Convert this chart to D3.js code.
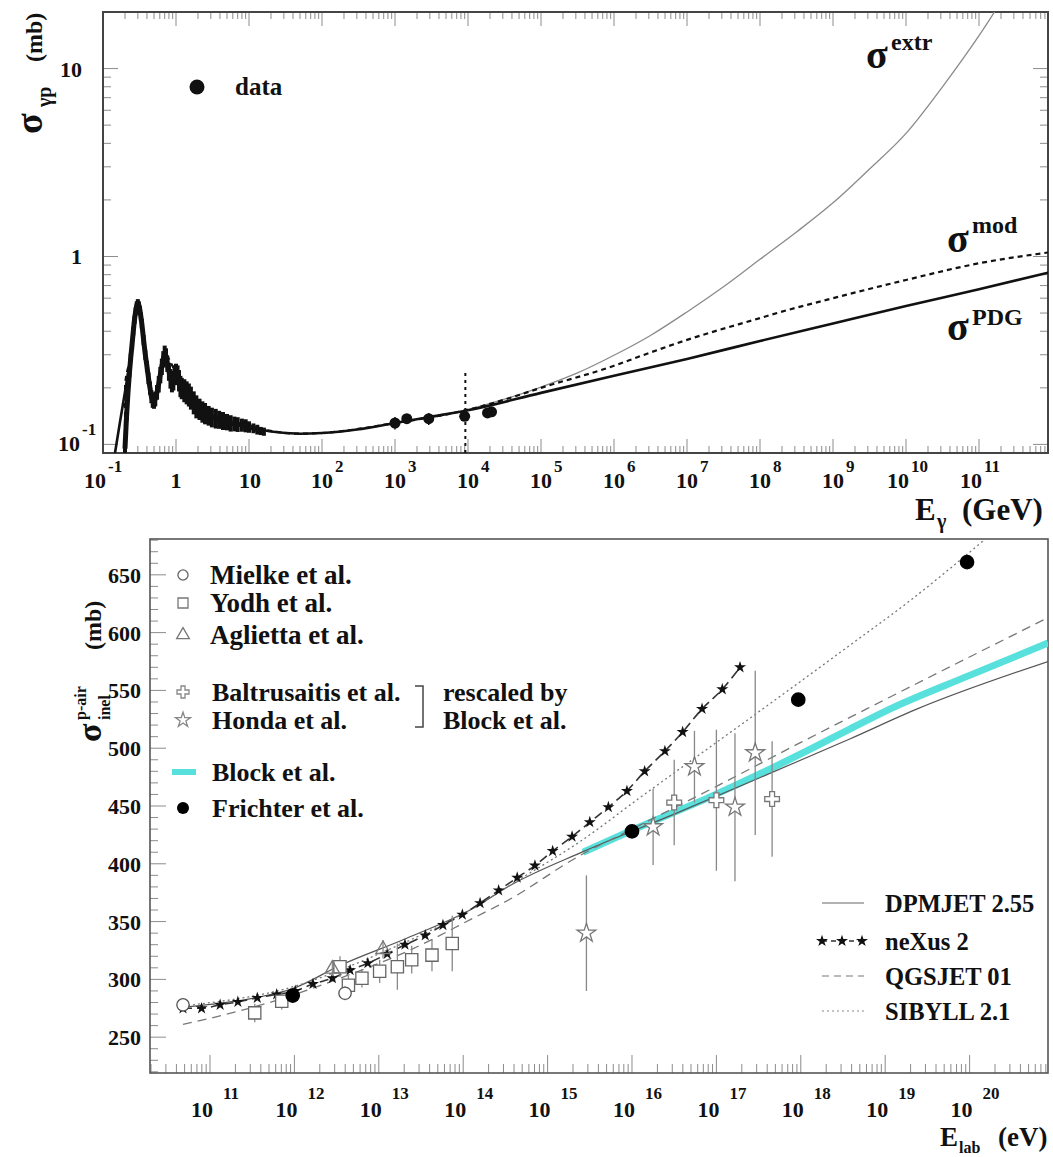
<!DOCTYPE html>
<html><head><meta charset="utf-8">
<script src="https://cdn.jsdelivr.net/npm/d3@7/dist/d3.min.js"></script>
<style>
html,body{margin:0;padding:0;background:#fff;}
text{font-family:'Liberation Serif','Times New Roman',serif;font-weight:bold;fill:#111;}
</style></head><body>
<svg id="chart" width="1053" height="1157" xmlns="http://www.w3.org/2000/svg"></svg>
<script>
// ================= TOP PANEL DATA (E in GeV, sigma in mb) =================
const topXTickExps = [-1,0,1,2,3,4,5,6,7,8,9,10,11];
const topYTickVals = [0.1, 1, 10];
const topYTickBase = ["10", "1", "10"];
const topYTickSup  = ["-1", "", ""];

const resE = [0.20,0.21,0.22,0.23,0.24,0.25,0.26,0.27,0.28,0.29,0.30,0.31,0.32,0.33,0.34,0.36,0.38,0.40,0.42,0.44,0.46,0.48,0.50,0.52,0.55,0.58,0.61,0.64,0.67,0.70,0.73,0.76,0.80,0.84,0.88,0.92,0.96,1.00,1.05,1.10,1.15,1.20,1.30,1.40,1.50,1.60,1.75,1.90,2.10,2.30,2.50,2.80,3.10,3.50,3.90,4.40,5.00,5.60,6.30,7.00,8.00,9.00,10.0,11.5,13.0,14.5,16.0];
const resSigma = [0.095,0.14,0.19,0.24,0.29,0.34,0.40,0.46,0.51,0.55,0.565,0.55,0.52,0.48,0.44,0.36,0.30,0.26,0.225,0.20,0.18,0.172,0.17,0.175,0.19,0.21,0.235,0.26,0.285,0.305,0.295,0.27,0.245,0.225,0.215,0.22,0.235,0.24,0.235,0.22,0.205,0.20,0.195,0.19,0.185,0.178,0.168,0.16,0.155,0.15,0.147,0.143,0.14,0.138,0.136,0.134,0.132,0.13,0.129,0.128,0.127,0.126,0.124,0.122,0.12,0.118,0.117];
const resRelErr = [0.05,0.05,0.05,0.05,0.05,0.05,0.05,0.05,0.05,0.05,0.05,0.05,0.05,0.05,0.06,0.06,0.06,0.07,0.07,0.08,0.08,0.09,0.09,0.09,0.09,0.1,0.1,0.1,0.1,0.1,0.1,0.1,0.11,0.12,0.12,0.12,0.12,0.12,0.12,0.13,0.13,0.13,0.14,0.14,0.14,0.14,0.14,0.14,0.13,0.13,0.13,0.12,0.12,0.12,0.11,0.11,0.1,0.1,0.09,0.09,0.08,0.08,0.07,0.06,0.06,0.05,0.05];

const hiE = [1.0e3, 1.45e3, 2.9e3, 9.0e3, 1.85e4, 2.1e4];
const hiSigma = [0.130, 0.137, 0.137, 0.141, 0.147, 0.149];
const hiErr = [0.010, 0.006, 0.010, 0.004, 0.005, 0.005];

const cutE = [9.2e3, 9.2e3];
const cutSigma = [0.09, 0.24];

const pdgE = [0.146,0.17,0.2,0.234,0.27,0.3,0.34,0.4,0.5,0.7,0.85,1.0,1.3,2,3,5,10,20,50,100,300,1e3,3e3,1e4,1e5,1e6,1e7,1e8,1e9,1e10,1e11,8.8e11];
const pdgSigma = [0.09,0.13,0.19,0.28,0.43,0.55,0.44,0.26,0.17,0.30,0.22,0.24,0.195,0.155,0.14,0.132,0.124,0.117,0.114,0.115,0.12,0.13,0.14,0.152,0.188,0.232,0.285,0.355,0.44,0.545,0.67,0.82];

const modE = [0.2,0.201,0.24,0.3,0.4,0.5,0.7,1.0,2,5,10,50,100,1e3,1e4,3e4,1e5,1e6,2.3e6,1e7,1e8,1.9e8,1e9,1e10,1e11,8.8e11];
const modSigma = [0.09,0.21,0.29,0.55,0.26,0.17,0.30,0.24,0.155,0.132,0.124,0.114,0.115,0.13,0.153,0.172,0.2,0.262,0.295,0.36,0.47,0.506,0.6,0.75,0.92,1.05];

const extrE = [1e4,3.16e4,1e5,3.16e5,1e6,3.16e6,1e7,3.16e7,1e8,3.16e8,1e9,3.16e9,1e10,3.16e10,1e11,2.5e11];
const extrSigma = [0.153,0.174,0.202,0.24,0.298,0.38,0.507,0.69,0.966,1.35,1.93,2.92,4.52,8.0,14.96,26.0];

// ================= BOTTOM PANEL DATA (log10 E_lab/eV, sigma in mb) =================
const botXTickExps = [11,12,13,14,15,16,17,18,19,20];
const botYTickVals = [250,300,350,400,450,500,550,600,650];

const mielkeLogE = [10.68, 12.60];
const mielkeSigma = [278, 288];
const mielkeErr = [4, 6];

const yodhLogE = [11.53, 11.85, 12.54, 12.64, 12.80, 13.01, 13.22, 13.39, 13.63, 13.87];
const yodhSigma = [271, 281, 311, 295, 301, 307, 311, 317, 321, 331];
const yodhErr = [8, 7, 9, 8, 8, 10, 20, 12, 14, 24];

const agliettaLogE = [12.45, 13.05];
const agliettaSigma = [309, 326];
const agliettaErr = [6, 8];

const baltLogE = [16.50, 17.00, 17.66];
const baltSigma = [453, 455, 456];
const baltErr = [37, 61, 50];

const hondaLogE = [15.46, 16.25, 16.74, 17.22, 17.46];
const hondaSigma = [340, 432, 484, 449, 496];
const hondaErr = [50, 33, 31, 64, 71];

const frichterLogE = [11.98, 16.0, 17.97, 19.97];
const frichterSigma = [286, 428, 542, 661];

const dpmLogE = [10.68, 11.53, 11.98, 12.54, 13.33, 14.12, 14.55, 15.42, 16.5, 17.5, 18.58, 19.38, 20.93];
const dpmSigma = [276, 284, 292, 312, 335.6, 361.5, 381, 410.5, 443, 474, 508, 534, 575];

const nexLogE = [10.68,10.90,11.12,11.33,11.56,11.79,12.01,12.22,12.45,12.66,12.87,13.10,13.31,13.55,13.76,13.99,14.20,14.42,14.64,14.85,15.06,15.29,15.50,15.72,15.94,16.15,16.39,16.60,16.83,17.07,17.28];
const nexSigma = [275,275,278,280.5,284,287,290,296,301,308,314,322,330,338,347,356,366,377,388,398.5,411,423.5,436,449,463,480,497.5,514,534,551,570];

const qgsLogE = [10.68, 11.15, 11.75, 12.54, 13.33, 14.12, 14.52, 15.38, 16.0, 17.0, 18.0, 18.78, 20.93];
const qgsSigma = [261, 269, 281, 301, 324, 353, 368, 407, 430, 467, 505, 534, 613];

const sibLogE = [10.68, 12.0, 13.0, 14.0, 14.7, 15.38, 16.09, 17.0, 17.87, 18.58, 19.3, 20.04, 20.3];
const sibSigma = [277, 294, 322, 357, 388, 419, 457, 505, 551, 589, 628, 672, 688];

const blockLogE = [15.42, 16.0, 16.96, 18.0, 18.58, 19.06, 20.0, 20.93];
const blockSigma = [410, 429, 459, 495, 516.5, 534, 563, 591];

// ================= LAYOUT =================
const svg = d3.select("#chart");
const TL = 103, TR = 1048, TT = 12, TB = 453;
const BL = 150, BR = 1048, BT = 539, BB = 1073;

const xT = d3.scaleLog().domain([0.1, Math.pow(10, 11.945)]).range([TL, TR]);
const yT = d3.scaleLog().domain([0.09, 20]).range([TB, TT]);
const xB = d3.scaleLog().domain([Math.pow(10, 10.289), Math.pow(10, 20.929)]).range([BL, BR]);
const yB = d3.scaleLinear().domain([219, 681]).range([BB, BT]);

const defs = svg.append("defs");
defs.append("clipPath").attr("id","clipT").append("rect").attr("x",TL).attr("y",TT).attr("width",TR-TL).attr("height",TB-TT);
defs.append("clipPath").attr("id","clipB").append("rect").attr("x",BL).attr("y",BT).attr("width",BR-BL).attr("height",BB-BT);

function addText(g, x, y, str, size, anchor) {
  return g.append("text").attr("x", x).attr("y", y).attr("text-anchor", anchor || "start")
    .style("font-size", size + "px").text(str);
}
const tickCol = "#8c8c8c";
const zip = (a, b) => a.map((v, i) => [v, b[i]]);

// ---------------- TOP AXES ----------------
const gTA = svg.append("g");
const topMinorX = [];
for (let d = -1; d <= 11; d++) for (let k = 1; k <= 9; k++) {
  const v = k * Math.pow(10, d);
  if (v >= 0.0999 && v <= xT.domain()[1]) topMinorX.push({v: v, major: k === 1});
}
gTA.append("g").selectAll("line").data(topMinorX).join("line")
  .attr("x1", d => xT(d.v)).attr("x2", d => xT(d.v))
  .attr("y1", TB).attr("y2", d => TB - (d.major ? 14 : 7))
  .attr("stroke", tickCol).attr("stroke-width", 1);
gTA.append("g").selectAll("line").data(topMinorX).join("line")
  .attr("x1", d => xT(d.v)).attr("x2", d => xT(d.v))
  .attr("y1", TT).attr("y2", d => TT + (d.major ? 14 : 7))
  .attr("stroke", tickCol).attr("stroke-width", 1);
const topMinorY = [];
for (let d = -2; d <= 1; d++) for (let k = 1; k <= 9; k++) {
  const v = k * Math.pow(10, d);
  if (v >= 0.0899 && v <= 20.01) topMinorY.push({v: v, major: k === 1});
}
[[TL, 1], [TR, -1]].forEach(([x0, s]) => {
  gTA.append("g").selectAll("line").data(topMinorY).join("line")
    .attr("y1", d => yT(d.v)).attr("y2", d => yT(d.v))
    .attr("x1", x0).attr("x2", d => x0 + s * (d.major ? 15 : 8))
    .attr("stroke", tickCol).attr("stroke-width", 1);
});
gTA.append("rect").attr("x", TL).attr("y", TT).attr("width", TR - TL).attr("height", TB - TT)
  .attr("fill", "none").attr("stroke", "#444").attr("stroke-width", 2);

topXTickExps.forEach(e => {
  const x = xT(Math.pow(10, e));
  if (e === 0) addText(gTA, x, 488, "1", 22, "middle");
  else if (e === 1) addText(gTA, x + 1, 488, "10", 22, "middle");
  else {
    const off = e === -1 ? -8 : (e >= 10 ? -8 : 0);
    addText(gTA, x + off, 488, "10", 22, "middle");
    addText(gTA, x + off + 13, 472, String(e), 17, "start");
  }
});
topYTickVals.forEach((v, i) => {
  const y = yT(v);
  if (topYTickSup[i]) {
    addText(gTA, 80, y + 7, topYTickBase[i], 22, "end");
    addText(gTA, 82, y - 9, topYTickSup[i], 17, "start");
  } else addText(gTA, 82, y + 8, topYTickBase[i], 22, "end");
});
{
  const g = gTA.append("g").attr("transform", "translate(42,134) rotate(-90)");
  addText(g, 0, 0, "σ", 38);
  addText(g, 27, 9, "γp", 20);
  addText(g, 72, 0, "(mb)", 24);
}
addText(gTA, 915, 520, "E", 31);
addText(gTA, 937, 528, "γ", 20);
addText(gTA, 962, 520, "(GeV)", 31);

// ---------------- TOP CURVES ----------------
const gTC = svg.append("g").attr("clip-path", "url(#clipT)");
const lineT = d3.line().x(d => xT(d[0])).y(d => yT(d[1])).curve(d3.curveMonotoneX);
gTC.append("path").attr("d", lineT(zip(extrE, extrSigma))).attr("fill", "none")
  .attr("stroke", "#8a8a8a").attr("stroke-width", 1.3);
gTC.append("path").attr("d", lineT(zip(modE, modSigma))).attr("fill", "none")
  .attr("stroke", "#111").attr("stroke-width", 2.2).attr("stroke-dasharray", "5,4");
gTC.append("path").attr("d", lineT(zip(pdgE, pdgSigma))).attr("fill", "none")
  .attr("stroke", "#111").attr("stroke-width", 2.6);
gTC.append("line").attr("x1", xT(cutE[0])).attr("x2", xT(cutE[1]))
  .attr("y1", yT(cutSigma[0])).attr("y2", yT(cutSigma[1]))
  .attr("stroke", "#111").attr("stroke-width", 2).attr("stroke-dasharray", "3,4");
const resData = resE.map((e, i) => ({e: e, s: resSigma[i], r: resRelErr[i]}));
gTC.append("g").selectAll("line").data(resData).join("line")
  .attr("x1", d => xT(d.e)).attr("x2", d => xT(d.e))
  .attr("y1", d => yT(d.s * (1 - d.r))).attr("y2", d => yT(d.s * (1 + d.r)))
  .attr("stroke", "#111").attr("stroke-width", 4);
gTC.append("path").attr("d", d3.line().x(d => xT(d.e)).y(d => yT(d.s)).curve(d3.curveMonotoneX)(resData))
  .attr("fill", "none").attr("stroke", "#111").attr("stroke-width", 5);
const hiData = hiE.map((e, i) => ({e: e, s: hiSigma[i], err: hiErr[i]}));
gTC.append("g").selectAll("line").data(hiData).join("line")
  .attr("x1", d => xT(d.e)).attr("x2", d => xT(d.e))
  .attr("y1", d => yT(d.s - d.err)).attr("y2", d => yT(d.s + d.err))
  .attr("stroke", "#111").attr("stroke-width", 1.5);
gTC.append("g").selectAll("circle").data(hiData).join("circle")
  .attr("cx", d => xT(d.e)).attr("cy", d => yT(d.s)).attr("r", 5.5).attr("fill", "#111");

svg.append("circle").attr("cx", 197).attr("cy", 87).attr("r", 7.5).attr("fill", "#111");
addText(svg, 235, 95, "data", 25);
addText(svg, 866, 68, "σ", 40);
addText(svg, 891, 50, "extr", 24);
addText(svg, 947, 252, "σ", 40);
addText(svg, 972, 233, "mod", 24);
addText(svg, 947, 340, "σ", 40);
addText(svg, 972, 325, "PDG", 24);

// ---------------- BOTTOM AXES ----------------
const gBA = svg.append("g");
const botMinorX = [];
for (let d = 10; d <= 20; d++) for (let k = 1; k <= 9; k++) {
  const v = k * Math.pow(10, d);
  if (v >= xB.domain()[0] && v <= xB.domain()[1]) botMinorX.push({v: v, major: k === 1});
}
gBA.append("g").selectAll("line").data(botMinorX).join("line")
  .attr("x1", d => xB(d.v)).attr("x2", d => xB(d.v))
  .attr("y1", BB).attr("y2", d => BB - (d.major ? 18 : 9))
  .attr("stroke", tickCol).attr("stroke-width", 1);
const botMinorY = d3.range(220, 681, 10);
gBA.append("g").selectAll("line").data(botMinorY).join("line")
  .attr("y1", d => yB(d)).attr("y2", d => yB(d))
  .attr("x1", BL).attr("x2", d => BL + (d % 50 === 0 ? 16 : 8))
  .attr("stroke", tickCol).attr("stroke-width", 1);
gBA.append("rect").attr("x", BL).attr("y", BT).attr("width", BR - BL).attr("height", BB - BT)
  .attr("fill", "none").attr("stroke", "#555").attr("stroke-width", 1.6);
botXTickExps.forEach(e => {
  const x = xB(Math.pow(10, e));
  addText(gBA, x - 8, 1117, "10", 22, "middle");
  addText(gBA, x + 13, 1099, String(e), 17, "start");
});
botYTickVals.forEach(v => addText(gBA, 141, yB(v) + 8, String(v), 22, "end"));
{
  const g = gBA.append("g").attr("transform", "translate(101,742) rotate(-90)");
  addText(g, 0, 0, "σ", 34);
  addText(g, 22, -15, "p-air", 16);
  addText(g, 22, 9, "inel", 16);
  addText(g, 92, 0, "(mb)", 24);
}
addText(gBA, 940, 1146, "E", 27);
addText(gBA, 959, 1153, "lab", 16);
addText(gBA, 998, 1146, "(eV)", 27);

// ---------------- BOTTOM CURVES ----------------
const gBC = svg.append("g").attr("clip-path", "url(#clipB)");
const lineB = d3.line().x(d => xB(Math.pow(10, d[0]))).y(d => yB(d[1])).curve(d3.curveMonotoneX);
gBC.append("path").attr("d", lineB(zip(blockLogE, blockSigma))).attr("fill", "none")
  .attr("stroke", "#58e0dc").attr("stroke-width", 7);
gBC.append("path").attr("d", lineB(zip(dpmLogE, dpmSigma))).attr("fill", "none")
  .attr("stroke", "#555").attr("stroke-width", 1.2);
gBC.append("path").attr("d", lineB(zip(qgsLogE, qgsSigma))).attr("fill", "none")
  .attr("stroke", "#777").attr("stroke-width", 1.3).attr("stroke-dasharray", "9,6");
gBC.append("path").attr("d", lineB(zip(sibLogE, sibSigma))).attr("fill", "none")
  .attr("stroke", "#777").attr("stroke-width", 1.3).attr("stroke-dasharray", "2,3");
gBC.append("path").attr("d", lineB(zip(nexLogE, nexSigma))).attr("fill", "none")
  .attr("stroke", "#333").attr("stroke-width", 1.6).attr("stroke-dasharray", "9,5");
const starSmall = d3.symbol(d3.symbolStar, 45)();
gBC.append("g").selectAll("path").data(zip(nexLogE, nexSigma)).join("path")
  .attr("d", starSmall).attr("transform", d => `translate(${xB(Math.pow(10, d[0]))},${yB(d[1])})`)
  .attr("fill", "#111");

function drawSet(logE, sig, err, symType, size, fill, stroke) {
  const data = logE.map((l, i) => ({x: xB(Math.pow(10, l)), y: yB(sig[i]), e: err ? err[i] : 0, s: sig[i]}));
  if (err) gBC.append("g").selectAll("line").data(data).join("line")
    .attr("x1", d => d.x).attr("x2", d => d.x)
    .attr("y1", d => yB(d.s - d.e)).attr("y2", d => yB(d.s + d.e))
    .attr("stroke", "#888").attr("stroke-width", 1.3);
  const p = d3.symbol(symType, size)();
  gBC.append("g").selectAll("path").data(data).join("path").attr("d", p)
    .attr("transform", d => `translate(${d.x},${d.y})`)
    .attr("fill", fill).attr("stroke", stroke).attr("stroke-width", 1.3);
}
drawSet(yodhLogE, yodhSigma, yodhErr, d3.symbolSquare, 150, "#fff", "#666");
drawSet(mielkeLogE, mielkeSigma, mielkeErr, d3.symbolCircle, 120, "#fff", "#555");
drawSet(agliettaLogE, agliettaSigma, agliettaErr, d3.symbolTriangle, 90, "none", "#777");
drawSet(hondaLogE, hondaSigma, hondaErr, d3.symbolStar, 110, "#fff", "#777");
drawSet(baltLogE, baltSigma, baltErr, d3.symbolCross, 120, "#fff", "#777");
drawSet(frichterLogE, frichterSigma, null, d3.symbolCircle, 140, "#000", "#000");

// ---------------- BOTTOM LEGENDS ----------------
const gL = svg.append("g");
const legSym = (type, size, x, y, fill, stroke) => gL.append("path").attr("d", d3.symbol(type, size)())
  .attr("transform", `translate(${x},${y})`).attr("fill", fill).attr("stroke", stroke).attr("stroke-width", 1.3);
legSym(d3.symbolCircle, 80, 183, 575, "#fff", "#666");
addText(gL, 210, 584, "Mielke et al.", 27);
legSym(d3.symbolSquare, 100, 183, 603, "#fff", "#777");
addText(gL, 210, 612, "Yodh et al.", 27);
legSym(d3.symbolTriangle, 70, 183, 635, "#fff", "#777");
addText(gL, 210, 644, "Aglietta et al.", 27);
legSym(d3.symbolCross, 80, 183, 692, "#fff", "#888");
addText(gL, 212, 701, "Baltrusaitis et al.", 26);
legSym(d3.symbolStar, 70, 183, 720, "#fff", "#888");
addText(gL, 212, 729, "Honda et al.", 26);
gL.append("path").attr("d", "M415,686 H423 V727 H415").attr("fill", "none").attr("stroke", "#444").attr("stroke-width", 1.5);
addText(gL, 443, 701, "rescaled by", 26);
addText(gL, 443, 729, "Block et al.", 26);
gL.append("line").attr("x1", 172).attr("x2", 196).attr("y1", 772).attr("y2", 772).attr("stroke", "#58e0dc").attr("stroke-width", 6);
addText(gL, 212, 781, "Block et al.", 26);
gL.append("circle").attr("cx", 183).attr("cy", 808).attr("r", 6).attr("fill", "#000");
addText(gL, 212, 817, "Frichter et al.", 26);

gL.append("line").attr("x1", 822).attr("x2", 864).attr("y1", 903).attr("y2", 903).attr("stroke", "#666").attr("stroke-width", 1.2);
addText(gL, 885, 912, "DPMJET 2.55", 24.5);
gL.append("line").attr("x1", 822).attr("x2", 864).attr("y1", 941).attr("y2", 941).attr("stroke", "#333").attr("stroke-width", 1.5).attr("stroke-dasharray", "5,4");
[822, 842, 862].forEach(x => gL.append("path").attr("d", starSmall).attr("transform", `translate(${x},941)`).attr("fill", "#111"));
addText(gL, 885, 950, "neXus 2", 24.5);
gL.append("line").attr("x1", 822).attr("x2", 864).attr("y1", 976).attr("y2", 976).attr("stroke", "#777").attr("stroke-width", 1.2).attr("stroke-dasharray", "7,5");
addText(gL, 885, 985, "QGSJET 01", 24.5);
gL.append("line").attr("x1", 822).attr("x2", 864).attr("y1", 1011).attr("y2", 1011).attr("stroke", "#888").attr("stroke-width", 1.2).attr("stroke-dasharray", "2,3");
addText(gL, 885, 1020, "SIBYLL 2.1", 24.5);
</script>
</body></html>
